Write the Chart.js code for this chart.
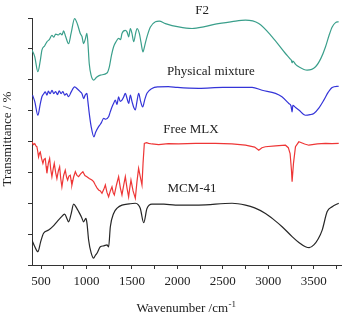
<!DOCTYPE html>
<html>
<head>
<meta charset="utf-8">
<script src="https://cdn.jsdelivr.net/npm/chart.js@4.4.1/dist/chart.umd.min.js"></script>
<style>
  html, body { margin: 0; padding: 0; background: #fff; }
</style>
</head>
<body>
<canvas id="ftirChart" width="343" height="314"></canvas>
<script>
const seriesNames = ["F2", "Physical mixture", "Free MLX", "MCM-41"];
const seriesColors = ["#3a9f8b", "#3434d8", "#ee3636", "#262626"];

// label anchors, in data units (wavenumber, stacked transmittance)
const labelWn = [2273, 2369, 2149, 2160];
const labelT = [8.25, 6.25, 4.37, 2.49];

const xTitle = "Wavenumber /cm";
const xTitleSup = "-1";
const yTitle = "Transmittance / %";

const f2Wn = [400, 430, 465, 490, 509, 540, 564, 590, 619, 640, 660, 690, 711, 730, 748, 770, 803, 830, 869, 900,
  931, 950, 968, 985, 1004, 1015, 1030, 1050, 1078, 1110, 1152, 1225, 1251, 1275, 1298, 1324, 1353, 1375, 1390, 1427,
  1445, 1464, 1482, 1500, 1519, 1540, 1555, 1581, 1600, 1621, 1640, 1665, 1703, 1758, 1800, 1868, 2014, 2161, 2300, 2418,
  2600, 2749, 2895, 3042, 3189, 3240, 3255, 3262, 3270, 3300, 3336, 3427, 3520, 3580, 3630, 3670, 3703, 3740, 3775];
const f2T = [6.96, 6.75, 6.26, 6.6, 6.96, 7.1, 7.23, 7.3, 7.44, 7.38, 7.48, 7.45, 7.5, 7.45, 7.58, 7.4, 7.17, 7.5, 7.98, 7.8,
  7.5, 7.4, 7.17, 7.3, 7.5, 7.2, 6.52, 6.15, 5.99, 6.08, 6.15, 6.22, 6.42, 6.8, 7.07, 7.23, 7.34, 7.3, 7.5, 7.6,
  7.55, 7.39, 7.66, 7.5, 7.23, 7.5, 7.66, 7.5, 7.2, 6.9, 7.1, 7.39, 7.71, 7.88, 7.9, 7.82, 7.71, 7.66, 7.72, 7.8,
  7.88, 7.93, 7.82, 7.39, 6.85, 6.68, 6.62, 6.55, 6.6, 6.5, 6.42, 6.31, 6.42, 6.7, 7.07, 7.45, 7.71, 7.85, 7.88];

const pmWn = [406, 430, 465, 490, 509, 530, 546, 565, 580, 600, 620, 640, 660, 680, 700, 720, 740, 760, 780, 803,
  830, 869, 900, 931, 950, 968, 985, 1004, 1015, 1030, 1050, 1081, 1100, 1133, 1150, 1165, 1188, 1210, 1243, 1260,
  1280, 1300, 1317, 1335, 1353, 1370, 1390, 1410, 1427, 1445, 1464, 1482, 1500, 1520, 1537, 1555, 1574, 1595, 1618, 1640,
  1665, 1720, 1794, 1900, 2000, 2235, 2500, 2822, 2932, 3079, 3150, 3226, 3250, 3262, 3270, 3300, 3336, 3409, 3460, 3501,
  3560, 3611, 3660, 3703, 3775];
const pmT = [5.5, 5.3, 4.85, 5.2, 5.45, 5.55, 5.61, 5.5, 5.63, 5.55, 5.66, 5.55, 5.62, 5.52, 5.64, 5.55, 5.62, 5.5, 5.55, 5.45,
  5.6, 5.77, 5.7, 5.61, 5.55, 5.39, 5.5, 5.56, 5.3, 4.91, 4.5, 4.15, 4.3, 4.48, 4.55, 4.62, 4.75, 4.72, 4.8, 4.95,
  5.12, 5.25, 5.34, 5.2, 5.45, 5.3, 5.34, 5.45, 5.56, 5.4, 5.23, 5.5, 5.3, 5.1, 5.02, 5.3, 5.56, 5.3, 5.12, 5.35,
  5.56, 5.72, 5.77, 5.78, 5.75, 5.72, 5.75, 5.75, 5.66, 5.56, 5.45, 5.23, 5.15, 4.96, 5.17, 5.1, 5.02, 4.85, 4.87, 4.91,
  5.1, 5.34, 5.6, 5.75, 5.79];

const mlxWn = [399, 415, 430, 445, 454, 462, 472, 482, 491, 505, 520, 532, 546, 555, 564, 580, 594, 606, 619, 632,
  645, 660, 674, 690, 704, 716, 729, 748, 766, 780, 792, 806, 821, 830, 839, 858, 877, 895, 913, 935,
  960, 982, 1004, 1030, 1059, 1078, 1097, 1115, 1133, 1152, 1170, 1190, 1207, 1225, 1243, 1262, 1280, 1293, 1306, 1330,
  1353, 1372, 1390, 1410, 1427, 1445, 1463, 1476, 1489, 1512, 1537, 1555, 1573, 1592, 1610, 1622, 1636, 1660, 1683, 1720,
  1794, 1900, 2014, 2200, 2418, 2600, 2749, 2850, 2895, 2930, 2968, 3080, 3189, 3220, 3240, 3255, 3262, 3277, 3299,
  3336, 3400, 3446, 3540, 3630, 3700, 3775];
const mlxT = [3.99, 3.9, 3.93, 3.85, 3.83, 3.7, 3.5, 3.62, 3.66, 3.45, 3.29, 3.42, 3.45, 3.2, 2.97, 3.3, 3.45, 3.1, 2.86, 3.1,
  3.29, 3.0, 2.8, 3.05, 3.18, 2.8, 2.53, 2.9, 3.07, 2.85, 2.75, 2.88, 2.91, 2.75, 2.59, 2.85, 3.02, 2.9, 2.86, 2.95,
  3.02, 2.9, 2.86, 2.8, 2.75, 2.7, 2.59, 2.5, 2.43, 2.4, 2.32, 2.45, 2.59, 2.35, 2.21, 2.4, 2.53, 2.35, 2.27, 2.6,
  2.86, 2.5, 2.27, 2.6, 2.86, 2.5, 2.21, 2.5, 2.75, 2.4, 2.16, 2.7, 3.13, 2.85, 2.59, 3.3, 3.94, 3.96, 3.94, 3.92,
  3.9, 3.93, 3.92, 3.94, 3.94, 3.92, 3.88, 3.82, 3.72, 3.8, 3.83, 3.86, 3.88, 3.8, 3.61, 3.07, 2.7, 3.29, 3.83,
  3.99, 3.92, 3.88, 3.92, 3.94, 3.93, 3.94];

const mcmWn = [399, 430, 465, 495, 527, 583, 630, 674, 720, 759, 785, 803, 830, 858, 890, 913, 945, 968, 993, 1005,
  1023, 1050, 1078, 1095, 1115, 1152, 1190, 1225, 1243, 1262, 1298, 1340, 1390, 1470, 1537, 1570, 1592, 1629, 1665, 1720,
  1850, 1978, 2235, 2601, 2749, 2850, 2969, 3060, 3152, 3262, 3340, 3409, 3450, 3501, 3550, 3593, 3648, 3703, 3775];
const mcmT = [0.81, 0.6, 0.43, 0.75, 1.03, 1.13, 1.25, 1.4, 1.55, 1.65, 1.5, 1.4, 1.65, 1.97, 1.85, 1.73, 1.55, 1.4, 1.51, 1.35,
  0.81, 0.4, 0.22, 0.3, 0.38, 0.59, 0.62, 0.65, 0.59, 1.24, 1.67, 1.85, 1.94, 1.98, 2.0, 1.95, 1.83, 1.37, 1.83, 1.97,
  1.97, 1.94, 1.94, 2.0, 1.94, 1.85, 1.67, 1.47, 1.24, 0.92, 0.72, 0.59, 0.56, 0.65, 0.85, 1.13, 1.73, 1.89, 2.0];

const seriesWn = [f2Wn, pmWn, mlxWn, mcmWn];
const seriesT = [f2T, pmT, mlxT, mcmT];

const serif = "'Liberation Serif', 'Times New Roman', serif";

const textPlugin = {
    id: "ftirText",
    afterDraw(chart) {
        const { ctx, scales } = chart;
        const x = scales.x;
        const y = scales.y;
        ctx.save();
        ctx.fillStyle = "#222";
        ctx.font = "13px " + serif;
        ctx.textAlign = "center";
        ctx.textBaseline = "middle";
        seriesNames.forEach((name, i) => {
            ctx.fillText(name, x.getPixelForValue(labelWn[i]), y.getPixelForValue(labelT[i]));
        });

        // x axis title with superscript
        ctx.textAlign = "left";
        ctx.textBaseline = "alphabetic";
        const w1 = ctx.measureText(xTitle).width;
        ctx.font = "9px " + serif;
        const w2 = ctx.measureText(xTitleSup).width;
        const startX = 186 - (w1 + w2) / 2;
        ctx.font = "13px " + serif;
        ctx.fillText(xTitle, startX, 312);
        ctx.font = "9px " + serif;
        ctx.fillText(xTitleSup, startX + w1 + 0.5, 307);

        // y axis title
        ctx.font = "13px " + serif;
        ctx.textAlign = "center";
        ctx.textBaseline = "middle";
        ctx.translate(8, 139);
        ctx.rotate(-Math.PI / 2);
        ctx.fillText(yTitle, 0, 0);
        ctx.restore();
    }
};

const ctx = document.getElementById("ftirChart").getContext("2d");
const ftirChart = new Chart(ctx, {
    type: "line",
    data: {
        datasets: seriesNames.map((name, i) => ({
            label: name,
            data: seriesWn[i].map((w, j) => ({ x: w, y: seriesT[i][j] })),
            borderColor: seriesColors[i],
            borderWidth: 1.2,
            pointRadius: 0,
            fill: false,
            tension: name === "Free MLX" ? 0 : 0.4,
            cubicInterpolationMode: name === "Free MLX" ? "default" : "monotone",
        })),
    },
    options: {
        responsive: false,
        animation: false,
        devicePixelRatio: 1,
        layout: {
            padding: { top: 18, right: 2, left: 0, bottom: 0 },
        },
        plugins: {
            legend: { display: false },
            tooltip: { enabled: false },
        },
        scales: {
            x: {
                type: "linear",
                min: 400,
                max: 3800,
                afterFit: (s) => { s.height = 49; },
                ticks: {
                    stepSize: 250,
                    includeBounds: false,
                    autoSkip: false,
                    maxRotation: 0,
                    padding: 5,
                    color: "#222",
                    font: { family: serif, size: 13 },
                    callback: (v) => (v % 500 === 0 ? String(v) : ""),
                },
                grid: {
                    drawOnChartArea: false,
                    drawTicks: true,
                    tickLength: 4,
                    color: "#333",
                },
                border: { color: "#333", width: 1 },
            },
            y: {
                min: 0,
                max: 8,
                afterFit: (s) => { s.width = 32; },
                ticks: {
                    stepSize: 1,
                    callback: () => "",
                },
                grid: {
                    drawOnChartArea: false,
                    drawTicks: true,
                    tickLength: 4,
                    color: "#333",
                },
                border: { color: "#333", width: 1 },
            },
        },
    },
    plugins: [textPlugin],
});
</script>
</body>
</html>
